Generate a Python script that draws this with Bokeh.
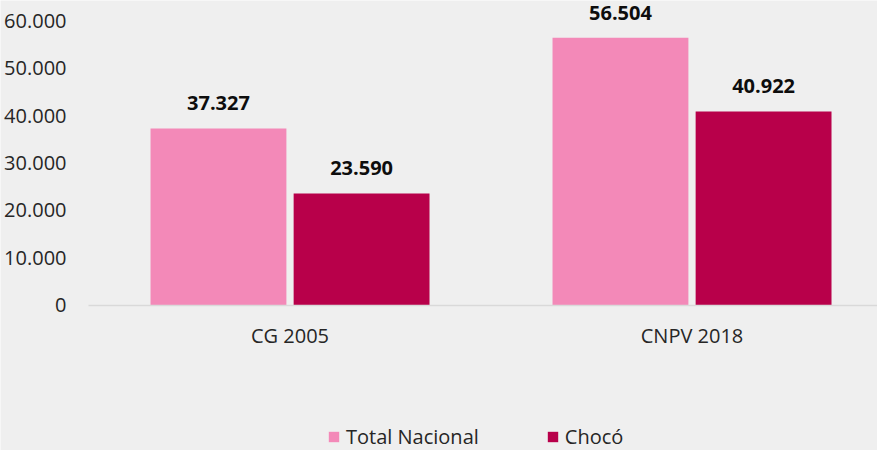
from bokeh.plotting import figure
from bokeh.models import ColumnDataSource, FixedTicker, Range1d, Legend, LegendItem
from bokeh.transform import dodge
from bokeh.core.properties import value
from bokeh.embed import file_html
from bokeh.resources import INLINE

categories = ["CG 2005", "CNPV 2018"]
total_nacional = [37327, 56504]
choco = [23590, 40922]
y_ticks = [0, 10000, 20000, 30000, 40000, 50000, 60000]
y_tick_labels = ["0", "10.000", "20.000", "30.000", "40.000", "50.000", "60.000"]
series_names = ["Total Nacional", "Chocó"]
colors = ["#F389B8", "#B8004A"]

def fmt(v):
    return f"{v:,}".replace(",", ".")

xs = list(range(len(categories)))
src = ColumnDataSource(dict(
    x=xs,
    total=total_nacional,
    choco=choco,
    total_lbl=[fmt(v) for v in total_nacional],
    choco_lbl=[fmt(v) for v in choco],
))

BG = "#EFEFEF"
FONT = "Open Sans"
X_START, X_END = -0.7202, 1.4614
AXIS_X = -0.5012  # where the value axis sits (left end of the baseline)

p = figure(width=877, height=450, output_backend="svg", toolbar_location=None,
           x_range=Range1d(X_START, X_END), y_range=Range1d(-30720, 64350),
           min_border_left=0, min_border_right=0, min_border_top=0, min_border_bottom=0)
p.background_fill_color = BG
p.border_fill_color = BG
p.outline_line_color = None
p.xgrid.visible = False
p.ygrid.visible = False

off = 0.178
bw = 0.338
r1 = p.vbar(x=dodge("x", -off), top="total", width=bw, source=src,
            fill_color=colors[0], line_color=None)
r2 = p.vbar(x=dodge("x", off), top="choco", width=bw, source=src,
            fill_color=colors[1], line_color=None)

p.text(x=dodge("x", -off), y="total", text="total_lbl", source=src,
       text_font=value(FONT), text_font_style="bold", text_font_size="20px",
       text_align="center", text_baseline="alphabetic", y_offset=-25, text_color="#0D0D0D")
p.text(x=dodge("x", off), y="choco", text="choco_lbl", source=src,
       text_font=value(FONT), text_font_style="bold", text_font_size="20px",
       text_align="center", text_baseline="alphabetic", y_offset=-25, text_color="#0D0D0D")

# x axis, drawn at y = 0 inside the frame
p.xaxis.fixed_location = 0
p.xaxis.bounds = (AXIS_X, X_END)
p.xaxis.ticker = FixedTicker(ticks=xs)
p.xaxis.major_label_overrides = {i: c for i, c in enumerate(categories)}
p.xaxis.axis_line_color = "#D9D9D9"
p.xaxis.axis_line_width = 1.5
p.xaxis.major_tick_line_color = None
p.xaxis.minor_tick_line_color = None
p.xaxis.major_label_text_font = FONT
p.xaxis.major_label_text_font_size = "20px"
p.xaxis.major_label_text_color = "#262626"
p.xaxis.major_label_standoff = 11

# y axis, drawn inside the frame at AXIS_X
p.yaxis.fixed_location = AXIS_X
p.yaxis.ticker = FixedTicker(ticks=y_ticks)
p.yaxis.major_label_overrides = {t: l for t, l in zip(y_ticks, y_tick_labels)}
p.yaxis.axis_line_color = None
p.yaxis.major_tick_line_color = None
p.yaxis.minor_tick_line_color = None
p.yaxis.major_label_text_font = FONT
p.yaxis.major_label_text_font_size = "20px"
p.yaxis.major_label_text_color = "#262626"
p.yaxis.major_label_standoff = 16

legend = Legend(items=[LegendItem(label=series_names[0], renderers=[r1]),
                       LegendItem(label=series_names[1], renderers=[r2])],
                orientation="horizontal", location=(327, 0),
                glyph_width=13, glyph_height=13, label_standoff=6, spacing=67,
                padding=0, margin=0, border_line_color=None, background_fill_alpha=0,
                label_text_font=FONT, label_text_font_size="20px", label_text_color="#262626")
p.add_layout(legend, "center")

open("out.html", "w").write(file_html(p, INLINE))
